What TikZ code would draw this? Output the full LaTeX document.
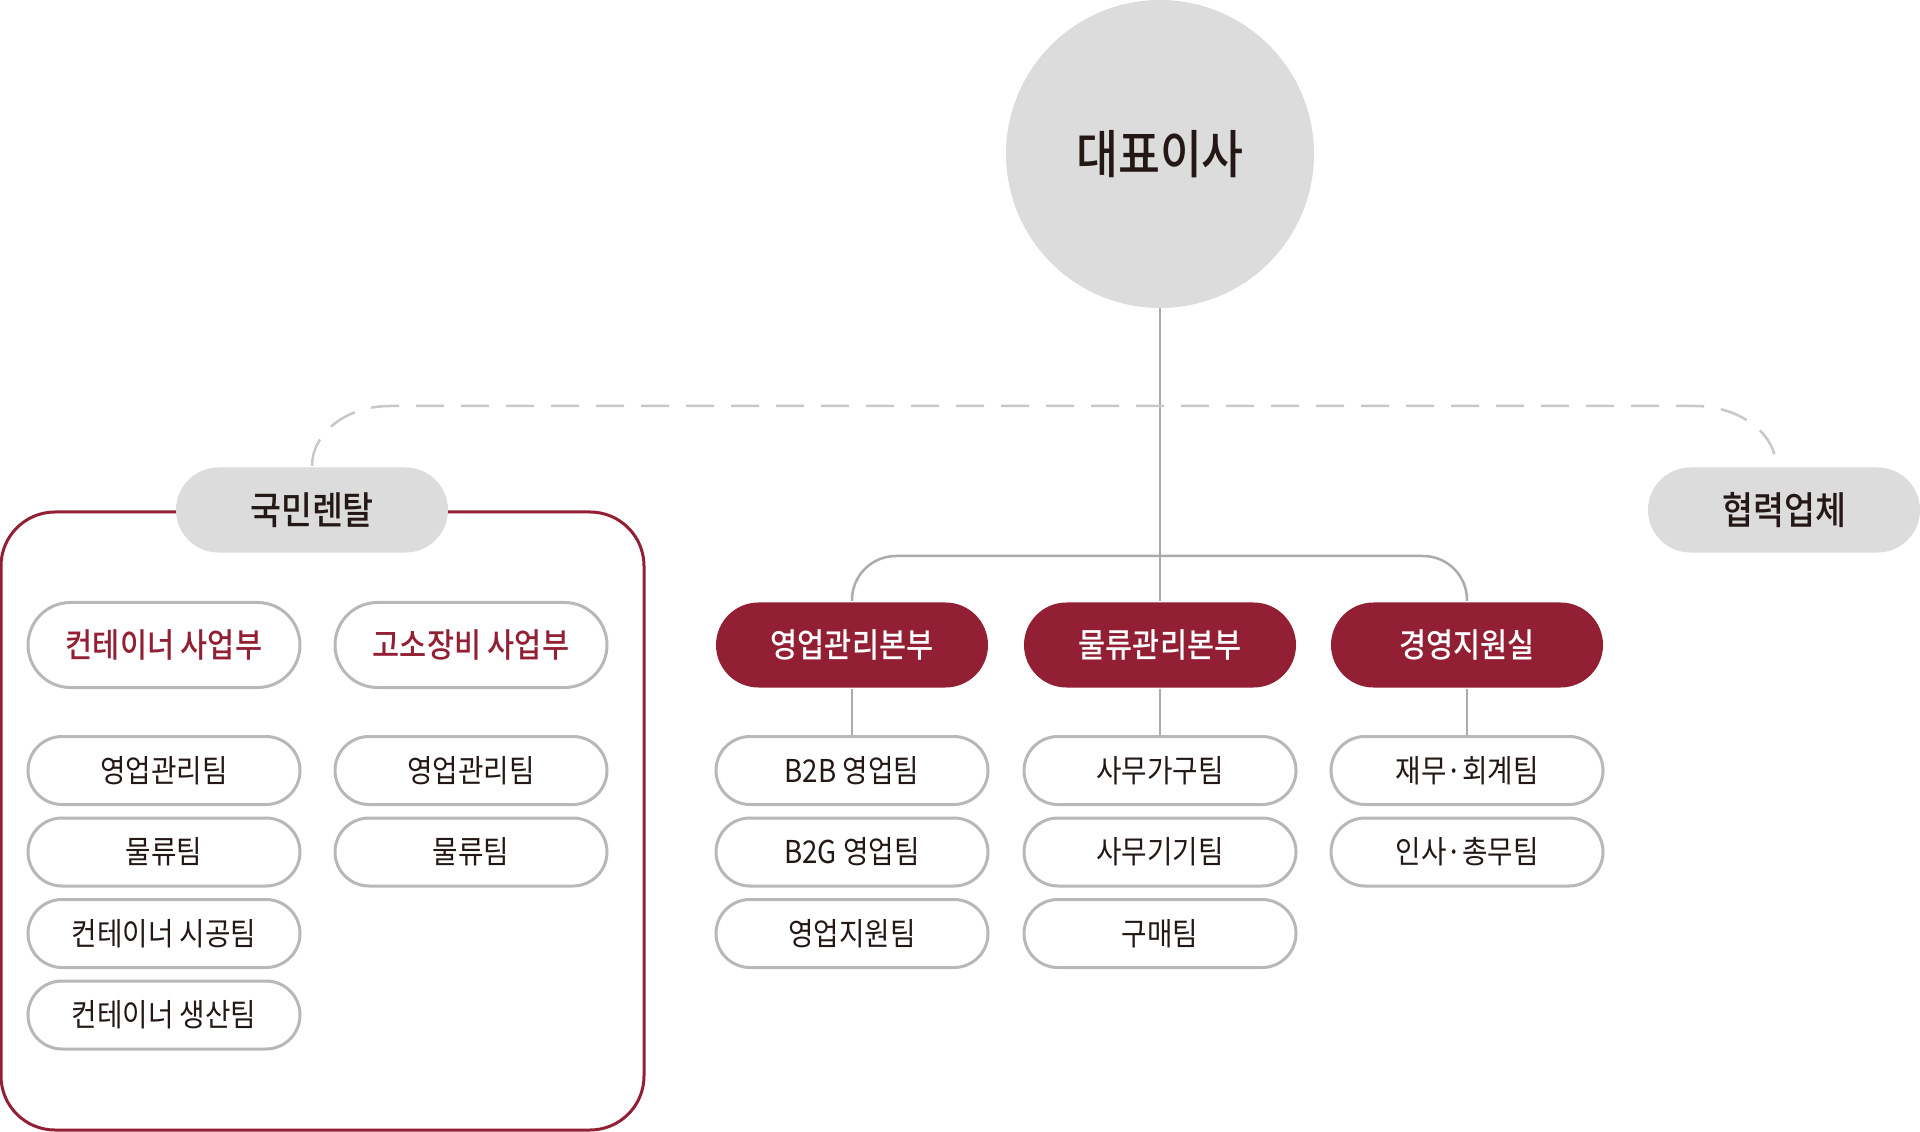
\documentclass[tikz,border=0pt]{standalone}
\usepackage{fontspec}
\setmainfont{Noto Sans CJK KR}[FakeStretch=0.88,BoldFont={Noto Sans CJK KR Medium},BoldFeatures={FakeStretch=0.88}]
\usetikzlibrary{shapes.misc}
\definecolor{wine}{HTML}{921F33}
\definecolor{ink}{HTML}{231815}
\definecolor{pale}{HTML}{DCDCDC}
\definecolor{rim}{HTML}{B8B8B8}
\definecolor{wire}{HTML}{ABABAB}
\definecolor{dashgray}{HTML}{C8C8C8}

\begin{document}
\begin{tikzpicture}[x=0.5bp,y=-0.5bp,
pill/.style={rounded rectangle,minimum width=136bp,minimum height=34bp,inner sep=0pt,
  draw=rim,line width=1.5bp,fill=white,text=ink,font=\fontsize{15.8}{16}\selectfont},
unit/.style={pill,minimum height=42.5bp,text=wine,font=\bfseries\fontsize{16.8}{17}\selectfont},
head/.style={unit,draw=none,fill=wine,text=white},
firm/.style={unit,draw=none,fill=pale,text=ink,font=\bfseries\fontsize{19.2}{19}\selectfont},
link/.style={draw=wire,line width=1.25bp},
dashline/.style={draw=dashgray,line width=1.25bp,dash pattern=on 14bp off 8.5bp}]

 \useasboundingbox (0,0) rectangle (1920,1132);
 % group frame
 \draw[wine,line width=1.5bp,rounded corners=27bp] (1,512) rectangle (644,1130);

 \node[circle,fill=pale,minimum size=154bp,inner sep=0pt,text=ink,
   font=\bfseries\fontsize{26}{26}\selectfont] (ceo) at (1160,154) {대표이사};
 \node[firm] (kmr) at (312,510) {국민렌탈};
 \node[firm] (partner) at (1784,510) {협력업체};

 \node[unit] (cont) at (164,645) {컨테이너 사업부};
 \node[unit] (lift) at (471,645) {고소장비 사업부};
 \node[head] (sales) at (852,645) {영업관리본부};
 \node[head] (logi) at (1160,645) {물류관리본부};
 \node[head] (mgmt) at (1467,645) {경영지원실};

 \foreach\t [count=\i] in {영업관리팀,물류팀,컨테이너 시공팀,컨테이너 생산팀}
  {\node[pill] (c\i) at (164,689+81.5*\i) {\t};}
 \foreach\t [count=\i] in {영업관리팀,물류팀}
  {\node[pill] (l\i) at (471,689+81.5*\i) {\t};}
 \foreach\t [count=\i] in {B2B 영업팀,B2G 영업팀,영업지원팀}
  {\node[pill] (s\i) at (852,689+81.5*\i) {\t};}
 \foreach\t [count=\i] in {사무가구팀,사무기기팀,구매팀}
  {\node[pill] (g\i) at (1160,689+81.5*\i) {\t};}
 \foreach\t [count=\i] in {재무·회계팀,인사·총무팀}
  {\node[pill] (m\i) at (1467,689+81.5*\i) {\t};}

 \coordinate (bar) at (1160,556);
 \draw[link] (ceo.south) -- (logi.north);
 \draw[link,rounded corners=22bp] (sales.north) |- (bar) -| (mgmt.north);
 \draw[link] (sales.south) -- (s1.north);
 \draw[link] (logi.south) -- (g1.north);
 \draw[link] (mgmt.south) -- (m1.north);
 \draw[dashline] (kmr.north) .. controls (312,434) and (345,406) .. (390,406)
   -- (1695,406) .. controls (1740,406) and (1776,434) .. ([xshift=-4bp]partner.north);
\end{tikzpicture}
\end{document}
